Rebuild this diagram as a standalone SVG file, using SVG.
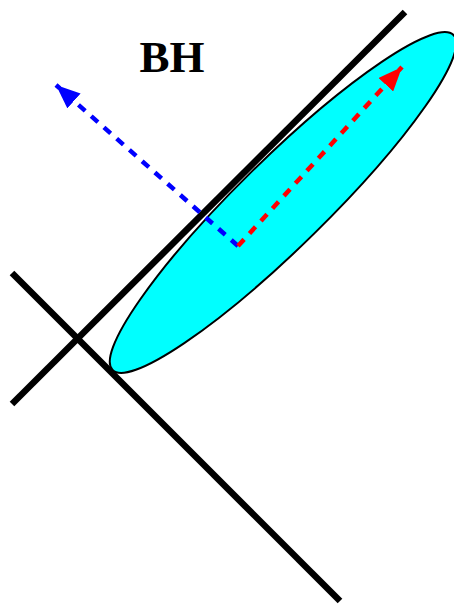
<svg xmlns="http://www.w3.org/2000/svg" width="454" height="605" viewBox="0 0 454 605">
<defs>
<style>
.axis{stroke:#000;stroke-width:6.5;fill:none}
.vec{stroke-width:4.5;stroke-dasharray:9 8;fill:none}
</style>
<marker id="ab" markerWidth="24" markerHeight="20" refX="24" refY="10" orient="auto" markerUnits="userSpaceOnUse"><path d="M0,0 L24,10 L0,20 z" fill="#0000ff"/></marker>
<marker id="ar" markerWidth="24" markerHeight="20" refX="24" refY="10" orient="auto" markerUnits="userSpaceOnUse"><path d="M0,0 L24,10 L0,20 z" fill="#ff0000"/></marker>
</defs>
<g id="ellipse"><ellipse cx="283" cy="202.5" rx="239" ry="44" transform="rotate(-44.5 283 202.5)" fill="#00ffff" stroke="#000" stroke-width="2"/></g>
<g id="axes">
<line class="axis" x1="12" y1="404" x2="405" y2="12"/>
<line class="axis" x1="12" y1="273" x2="340" y2="601"/>
</g>
<g id="connectors">
<path class="vec" stroke="#0000ff" d="M238,246 L56,85" marker-end="url(#ab)"/>
<path class="vec" stroke="#ff0000" d="M238,246 L402,67" marker-end="url(#ar)"/>
</g>
<g id="label"><text x="172" y="72" font-family="Liberation Serif, serif" font-weight="bold" font-size="45" text-anchor="middle">BH</text></g>
</svg>
